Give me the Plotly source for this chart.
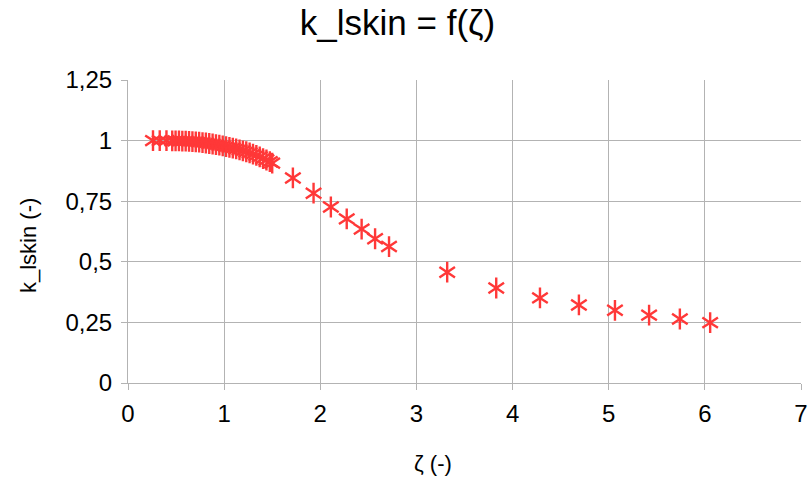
import plotly.graph_objects as go

# zeta (-) values
zeta = [0.26, 0.33, 0.40, 0.46, 0.495, 0.53, 0.565, 0.60, 0.635, 0.67, 0.705, 0.74,
        0.775, 0.81, 0.845, 0.88, 0.915, 0.95, 0.985, 1.02, 1.055, 1.09, 1.125, 1.16,
        1.195, 1.23, 1.265, 1.30, 1.335, 1.37, 1.405, 1.44, 1.475, 1.50,
        1.715, 1.93, 2.11, 2.275, 2.43, 2.57, 2.715,
        3.32, 3.83, 4.285, 4.69, 5.065, 5.42, 5.74, 6.055]
# k_lskin (-) values
k_lskin = [1.000, 1.000, 1.000, 0.999, 0.999, 0.999, 0.998, 0.998, 0.997, 0.996, 0.995, 0.994,
           0.992, 0.990, 0.988, 0.986, 0.983, 0.981, 0.978, 0.975, 0.972, 0.969, 0.966, 0.962,
           0.958, 0.954, 0.949, 0.944, 0.939, 0.933, 0.926, 0.920, 0.913, 0.907,
           0.846, 0.783, 0.726, 0.677, 0.635, 0.595, 0.563,
           0.457, 0.392, 0.351, 0.322, 0.300, 0.280, 0.264, 0.249]

x_ticks = [0, 1, 2, 3, 4, 5, 6, 7]
x_ticktext = ["0", "1", "2", "3", "4", "5", "6", "7"]
y_ticks = [0, 0.25, 0.5, 0.75, 1, 1.25]
y_ticktext = ["0", "0,25", "0,5", "0,75", "1", "1,25"]

W, H = 809, 479
color = "#ff3838"
fig = go.Figure()
for sym in ["y-up-open", "y-down-open"]:
    fig.add_trace(go.Scatter(
        x=zeta, y=k_lskin, mode="markers", showlegend=False,
        marker=dict(symbol=sym, size=13, color=color,
                    line=dict(color=color, width=2.4)),
    ))

font = "Liberation Sans, Arial, sans-serif"
fig.update_layout(
    width=W, height=H,
    margin=dict(l=128, r=8, t=80, b=96),
    paper_bgcolor="white", plot_bgcolor="white",
    font=dict(family=font, color="black"),
    title=dict(text="k_lskin = f(ζ)", xref="container", x=397.5 / W, xanchor="center",
               yref="container", y=1 - 23 / H, yanchor="middle",
               font=dict(size=35, family=font)),
)
grid = "#b3b3b3"
fig.update_xaxes(
    range=[0, 7], tickvals=x_ticks, ticktext=x_ticktext, automargin=False,
    showgrid=True, gridcolor=grid, gridwidth=1,
    zeroline=False, showline=True, linecolor=grid,
    ticks="outside", ticklen=6, tickcolor=grid,
    tickfont=dict(size=24), ticklabelstandoff=3,
)
fig.update_yaxes(
    range=[0, 1.25], tickvals=y_ticks, ticktext=y_ticktext, automargin=False,
    showgrid=True, gridcolor=grid, gridwidth=1,
    zeroline=False, showline=True, linecolor=grid,
    ticks="outside", ticklen=6, tickcolor=grid,
    tickfont=dict(size=24), ticklabelstandoff=4,
)
# axis titles placed as in the reference (not centred on the plot area)
fig.add_annotation(text="ζ (-)", xref="paper", yref="paper",
                   x=(433 - 128) / (801 - 128), y=-(463 - 383) / (383 - 80),
                   xanchor="center", yanchor="middle", showarrow=False,
                   font=dict(size=22))
fig.add_annotation(text="k_lskin (-)", xref="paper", yref="paper",
                   x=-(128 - 28) / (801 - 128), y=(383 - 246) / (383 - 80),
                   xanchor="center", yanchor="middle", showarrow=False,
                   textangle=-90, font=dict(size=22))
fig.write_html("out.html")
